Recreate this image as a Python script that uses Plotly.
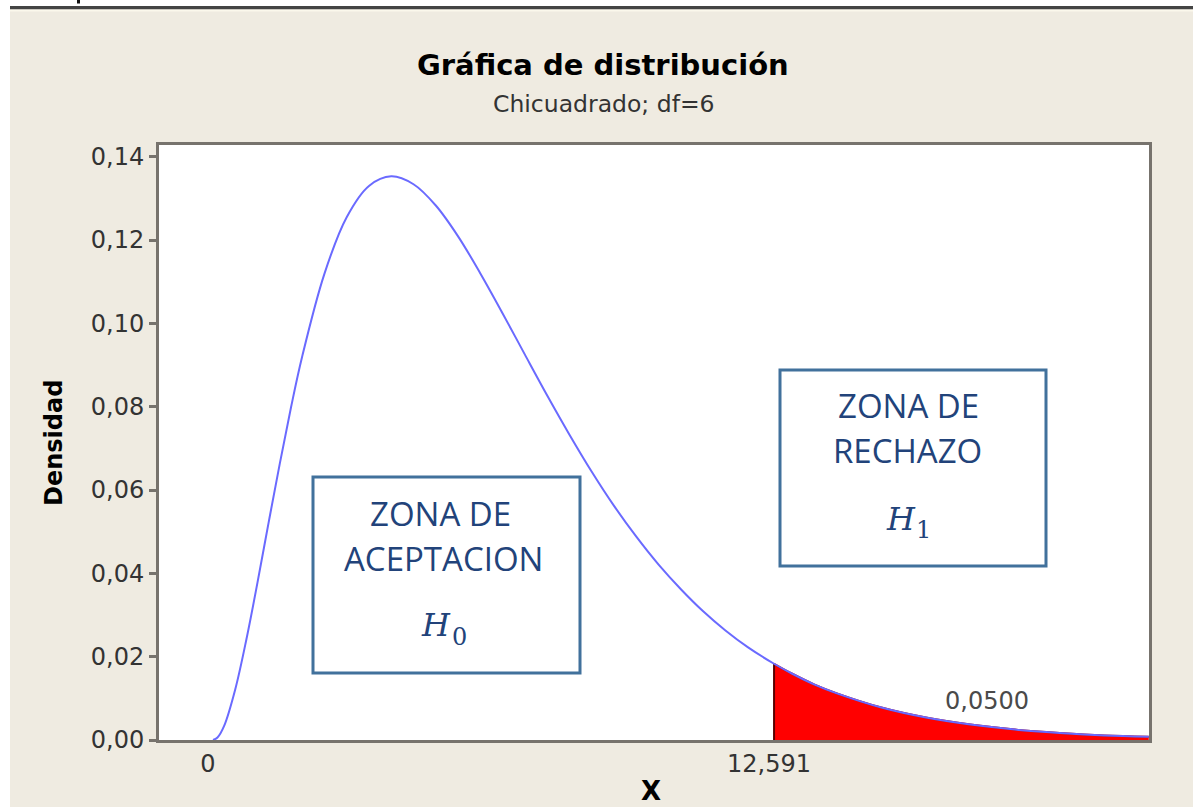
import plotly.graph_objects as go

# ---------------- data ----------------
x_vals = [0, 0.1, 0.25, 0.5, 0.75, 1, 1.25, 1.5, 1.75, 2, 2.5, 3, 3.5, 4, 4.5, 5,
          5.5, 6, 6.5, 7, 7.5, 8, 8.5, 9, 9.5, 10, 10.5, 11, 11.5, 12, 12.591,
          13, 13.5, 14, 15, 16, 17, 18, 19, 20, 21]
density = [0, 0.0006, 0.0034, 0.0122, 0.0242, 0.0379, 0.0523, 0.0664, 0.0798,
           0.0920, 0.1119, 0.1255, 0.1330, 0.1353, 0.1334, 0.1283, 0.1209,
           0.1120, 0.1024, 0.0925, 0.0827, 0.0733, 0.0644, 0.0562, 0.0488,
           0.0421, 0.0362, 0.0309, 0.0263, 0.0223, 0.0183, 0.0159, 0.0133,
           0.0112, 0.0078, 0.0054, 0.0037, 0.0025, 0.0017, 0.0011, 0.0008]
critical = 12.591
alpha_label = "0,0500"
y_ticks = [0, 0.02, 0.04, 0.06, 0.08, 0.10, 0.12, 0.14]
y_tick_labels = ["0,00", "0,02", "0,04", "0,06", "0,08", "0,10", "0,12", "0,14"]
x_ticks = [0, critical]
x_tick_labels = ["0", "12,591"]

tail_x = [x for x in x_vals if x >= critical]
tail_y = [y for x, y in zip(x_vals, density) if x >= critical]

# ---------------- layout geometry (pixels) ----------------
W, H = 1193, 807
L, R, T, B = 159, 1149, 145, 740


def px(x):
    return (x - L) / (R - L)


def py(y):
    return (B - y) / (B - T)


BG = "#EFEBE1"
AX = "#77736D"
TXT = "#333333"
BOXTXT = "#22437A"

fig = go.Figure()

# red rejection tail
fig.add_trace(go.Scatter(x=tail_x, y=tail_y, mode="lines", fill="tozeroy",
                         fillcolor="#FF0000", line=dict(color="#B00010", width=2, shape="spline"),
                         hoverinfo="skip", showlegend=False))
# critical vertical edge
fig.add_trace(go.Scatter(x=[critical, critical], y=[0, tail_y[0]], mode="lines",
                         line=dict(color="#5A0000", width=2), hoverinfo="skip", showlegend=False))
# density curve
fig.add_trace(go.Scatter(x=x_vals, y=density, mode="lines",
                         line=dict(color="#6A6AFF", width=2, shape="spline"),
                         hoverinfo="skip", showlegend=False))

shapes = []
# white left strip / top strip and dark rule at the top
shapes.append(dict(type="rect", xref="paper", yref="paper", x0=px(0), x1=px(10), y0=py(H), y1=py(0),
                   fillcolor="white", line=dict(width=0), layer="above"))
shapes.append(dict(type="rect", xref="paper", yref="paper", x0=px(0), x1=px(W), y0=py(6), y1=py(0),
                   fillcolor="white", line=dict(width=0), layer="above"))
shapes.append(dict(type="rect", xref="paper", yref="paper", x0=px(10), x1=px(W), y0=py(9.5), y1=py(6),
                   fillcolor="#444444", line=dict(width=0), layer="above"))
shapes.append(dict(type="rect", xref="paper", yref="paper", x0=px(10), x1=px(W), y0=py(11.5), y1=py(9.5),
                   fillcolor="#FBF8EC", line=dict(width=0), layer="above"))
shapes.append(dict(type="rect", xref="paper", yref="paper", x0=px(77), x1=px(80), y0=py(3.5), y1=py(0),
                   fillcolor="#111111", line=dict(width=0), layer="above"))
# annotation boxes
for (x0, y0, x1, y1) in [(313, 477, 580, 673), (780, 370, 1046, 566)]:
    shapes.append(dict(type="rect", xref="paper", yref="paper", x0=px(x0), x1=px(x1),
                       y0=py(y1), y1=py(y0), fillcolor="white",
                       line=dict(color="#41719C", width=3), layer="above"))

annotations = []


def ann(text, x, y, size, color="black", family="DejaVu Sans", weight="normal",
        style="normal", angle=0):
    annotations.append(dict(text=text, x=px(x), y=py(y), xref="paper", yref="paper",
                            showarrow=False, xanchor="center", yanchor="middle",
                            textangle=angle,
                            font=dict(size=size, color=color, family=family,
                                      weight=weight, style=style)))


ann("Gráfica de distribución", 603, 65, 29, "black", weight="bold")
ann("Chicuadrado; df=6", 604, 104, 23.5, "#333333")
ann("Densidad", 54, 443, 24, "black", weight="bold", angle=-90)
ann("X", 651, 791, 26, "black", weight="bold")
ann(alpha_label, 987, 701, 24, "#4A4A4A")

ann("ZONA DE", 440, 513, 33, BOXTXT, family="Open Sans")
ann("ACEPTACION", 443, 558, 33, BOXTXT, family="Open Sans")
ann("H", 436, 625, 32, BOXTXT, family="DejaVu Serif", style="italic")
ann("0", 459, 637, 24, BOXTXT, family="DejaVu Serif")

ann("ZONA DE", 908, 405, 33, BOXTXT, family="Open Sans")
ann("RECHAZO", 907, 450, 33, BOXTXT, family="Open Sans")
ann("H", 901, 519, 32, BOXTXT, family="DejaVu Serif", style="italic")
ann("1", 923, 530, 24, BOXTXT, family="DejaVu Serif")

x0_val = (L - 213) / 44.56
x1_val = (R - 213) / 44.56
y1_val = (B - T) / 4166.0

fig.update_layout(
    width=W, height=H,
    margin=dict(l=L, r=W - R, t=T, b=H - B, pad=0),
    paper_bgcolor=BG, plot_bgcolor="white",
    shapes=shapes, annotations=annotations,
    showlegend=False,
    xaxis=dict(range=[x0_val, x1_val], tickvals=x_ticks, ticktext=x_tick_labels,
               ticks="", showgrid=False, zeroline=False, showline=True,
               linecolor=AX, linewidth=3, mirror=True, ticklabelshift=-5,
               tickfont=dict(family="DejaVu Sans", size=24, color=TXT)),
    yaxis=dict(range=[0, y1_val], tickvals=y_ticks, ticktext=y_tick_labels,
               ticks="outside", ticklen=7, tickwidth=3, tickcolor=AX,
               showgrid=False, zeroline=False, showline=True,
               linecolor=AX, linewidth=3, mirror=True,
               tickfont=dict(family="DejaVu Sans", size=24, color=TXT)),
)

fig.write_html("out.html", config={"displayModeBar": False},
               post_script="document.body.style.margin='0';")
